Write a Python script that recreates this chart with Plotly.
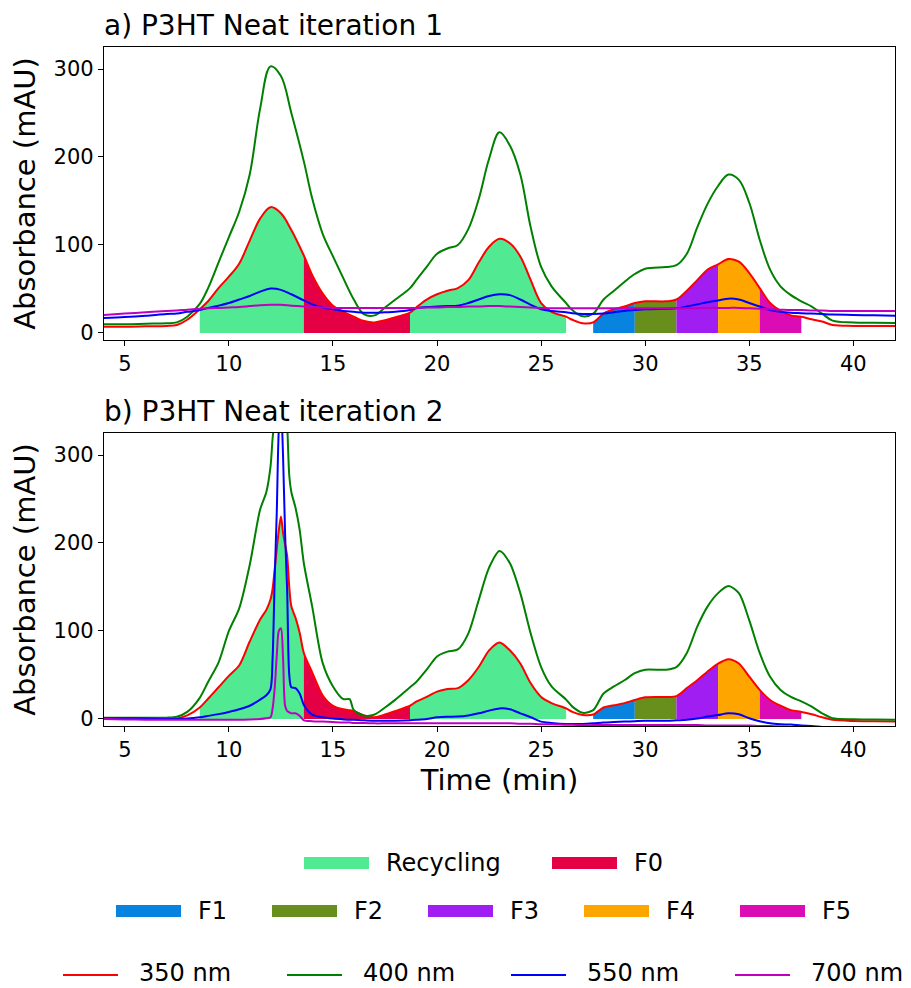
import plotly.graph_objects as go

# ---------------------------------------------------------------------------
# Chromatogram data (retention time in min, absorbance in mAU)
# ---------------------------------------------------------------------------
time_1 = [4, 5, 6, 7, 7.5, 8, 8.6, 9, 9.5, 10, 10.5, 11, 11.5, 12, 12.5, 13,
          13.6, 14, 14.5, 15, 15.5, 16, 16.5, 17, 17.5, 18, 18.7, 19, 19.5,
          20, 20.5, 21, 21.5, 22, 22.5, 23, 23.5, 24, 24.5, 25, 25.5, 26.2,
          26.5, 27, 27.5, 28, 28.5, 29, 29.5, 30, 31, 31.5, 32, 32.5, 33,
          33.5, 34, 34.5, 35, 35.5, 36, 36.5, 37, 37.5, 38, 38.5, 39, 40, 41, 42]
abs350_1 = [7, 7, 7.5, 8, 9, 15, 27, 36, 51, 64, 79, 105, 130, 143, 136, 117,
            88, 66, 45, 31, 24, 18.5, 13.5, 12, 14.5, 18, 23, 29, 38,
            44, 48, 51, 60, 80, 98, 107, 102, 87, 60, 34, 24, 18.5,
            15, 11, 12, 22, 27, 30, 34, 36, 36, 38, 48, 60, 72,
            78, 84, 81, 68, 51, 34, 25, 20, 18.5, 15.5, 13, 9, 8, 8, 8]
abs400_1 = [10, 10, 10.5, 11, 12, 18.5, 33, 51, 80, 109, 138, 180, 255, 303, 292, 250,
            195, 153, 113, 87, 62, 38, 21, 20, 29, 38, 51, 60, 75,
            90, 96, 100, 118, 152, 198, 228, 213, 180, 120, 75, 53, 34,
            26, 19, 22, 38, 48, 58, 67, 73, 75, 77, 90, 120, 147,
            167, 180, 174, 148, 106, 72, 53, 43, 36, 30, 22, 14, 12, 11.7, 11.4]
abs550_1 = [17, 18, 19.5, 21.5, 22, 24, 26, 28.5, 31, 34, 38, 42, 47, 50.5, 49, 44,
            37, 32.5, 29, 27, 25, 24, 23, 23, 23.5, 24, 26, 28, 29.5,
            30, 30.5, 31, 34, 38, 42, 44, 43, 38, 32, 27, 25, 23.5,
            22.5, 21.5, 21.5, 22, 23.5, 25, 26, 27, 27.5, 28, 30, 32.5, 35,
            37, 39, 38, 34, 30, 26, 24, 23, 22.5, 22, 21.5, 21, 20.5, 20, 19.7]
abs700_1 = [20.5, 22, 23.5, 25, 25.5, 26.5, 27.5, 28, 28.5, 29, 29.5, 30.5, 31.5, 32, 32, 31,
            30, 29.5, 29, 28.5, 28.5, 28.5, 28.5, 28.5, 28.5, 28.5, 28.5, 28.5, 29,
            29, 29.5, 29.5, 30, 30, 30.5, 30.5, 30, 29.5, 29, 28.5, 28, 28,
            28, 28, 28, 28, 28, 28, 28, 28, 28, 28, 28, 28, 28.5,
            28.5, 28.5, 28.5, 28, 27.5, 27, 26.5, 26, 26, 25.5, 25.5, 25, 25, 25, 25]

time_2 = [4, 5, 6, 7, 7.5, 8, 8.6, 9, 9.5, 10, 10.5, 11, 11.5, 11.8, 12.0, 12.1,
          12.2, 12.3, 12.4, 12.5, 12.6, 12.7, 12.8, 12.9, 13.0, 13.2, 13.4, 13.6,
          14, 14.5, 15, 15.5, 15.8, 16, 16.5, 17, 17.5, 18, 18.7, 19, 19.5,
          20, 20.5, 21, 21.5, 22, 22.5, 23, 23.5, 24, 24.5, 25, 25.5, 26.2,
          26.5, 27, 27.5, 28, 28.5, 29, 29.5, 30, 31, 31.5, 32, 32.5, 33,
          33.5, 34, 34.5, 35, 35.5, 36, 36.5, 37, 37.5, 38, 38.5, 39, 40, 41, 42]
abs350_2 = [0.8, 0.8, 0.5, 0.4, 0.6, 4, 13, 23, 36, 49, 61, 88, 113, 124, 136, 148,
            170, 193, 215, 230, 212, 198, 185, 150, 128, 115, 98, 75,
            53, 27, 15, 11, 10, 9, 4, 2, 5, 9, 15, 19.7, 25,
            31, 34, 35, 44, 59, 78, 87, 78, 63, 40.5, 25, 18, 12,
            8, 4.5, 5, 13, 15.5, 18, 21.6, 24.6, 25, 26, 35, 44, 54,
            63, 68, 63, 48, 33, 21.6, 15, 10, 8, 5.3, 1.9, -1, -2.3, -2.6, -3]
abs400_2 = [1.5, 1.5, 1.5, 1.5, 2.5, 8, 24, 42, 64, 100, 126, 175, 238, 258, 287, 319,
            340, 365, 390, 400, 392, 370, 335, 277, 258, 240, 215, 177,
            128, 64, 37, 22.5, 22.5, 10, 3.8, 5, 13, 22, 36, 42, 56,
            71, 76.5, 79, 97, 135, 172, 191, 177, 143, 97, 59, 37, 22,
            14, 7, 10, 29, 37, 44, 52, 56, 56, 59, 75, 105, 128,
            143, 151, 143, 112, 75, 48, 33, 25, 20, 14, 6.4, 0.8, -0.4, -0.7, -1]
abs550_2 = [0.8, 0.8, 0.5, 0, 0, 0.5, 2, 3.5, 5.5, 8, 11, 15, 22, 27, 34, 69,
            160, 235, 330, 355, 300, 210, 145, 50, 36, 35, 29, 16,
            5, 2, 0.5, -0.5, -1, -1, -1.5, -2, -2, -2, -1.5, -1, 0,
            1.9, 2.5, 2.7, 4, 6.4, 9.5, 12, 11, 6.4, 2, -3, -4.5, -5.7,
            -5.7, -5.7, -5, -4, -3.5, -3, -2.5, -2, -2, -1.5, -1, 0.5, 2.7,
            4.5, 6.4, 5.3, 0.8, -2.5, -5, -6, -6.4, -7.5, -8, -9, -9.5, -10, -10, -10]
abs700_2 = [0, -0.5, -0.8, -1, -1, -1, -1, -1, -1, -0.8, -0.8, -0.5, 0, 0.8, 2, 12,
            35, 72, 100, 103, 70, 15, 9, 7.6, 6.4, 6.4, 3.5, -1.5,
            -2.5, -3, -3.5, -4, -4, -4.5, -4.5, -5, -5, -5, -5, -5, -5,
            -5, -5, -5, -5, -5, -5, -5, -5, -5.5, -5.5, -6, -6, -6.5,
            -6.5, -7, -7, -7, -7, -7, -7, -7, -7, -7, -7, -7, -7.5,
            -7.5, -7.5, -7.5, -7.5, -8, -8, -8.5, -9, -9, -9.5, -10, -10, -10, -10, -10]

for arr in (abs350_1, abs400_1, abs550_1, abs700_1):
    assert len(arr) == len(time_1)
for arr in (abs350_2, abs400_2, abs550_2, abs700_2):
    assert len(arr) == len(time_2)

# Fraction collection windows (min)
window_start = [8.6, 13.6, 18.7, 27.5, 29.5, 31.5, 33.5, 35.5]
window_end = [13.6, 18.7, 26.2, 29.5, 31.5, 33.5, 35.5, 37.5]
window_label = ["Recycling", "F0", "Recycling", "F1", "F2", "F3", "F4", "F5"]

fraction_names = ["Recycling", "F0", "F1", "F2", "F3", "F4", "F5"]
fraction_colors = ["#51E992", "#E50046", "#0883DF", "#688F1C",
                   "#A01EF2", "#FFA500", "#DC0CB4"]

wavelength_names = ["350 nm", "400 nm", "550 nm", "700 nm"]
wavelength_colors = ["#FF0000", "#008000", "#0000FF", "#BF00BF"]

panel_titles = ["a) P3HT Neat iteration 1", "b) P3HT Neat iteration 2"]

x_ticks = [5, 10, 15, 20, 25, 30, 35, 40]
y_ticks = [0, 100, 200, 300]

# ---------------------------------------------------------------------------
W, H = 911, 988
FONT = "DejaVu Sans"


def px_x(p):
    return p / W


def px_y(p):
    return 1 - p / H


def window(ts, vs, lo, hi):
    xs, ys = [], []
    for t, v in zip(ts, vs):
        if lo - 1e-9 <= t <= hi + 1e-9:
            xs.append(t)
            ys.append(v)
    return xs, ys


fig = go.Figure()
color_of = dict(zip(fraction_names, fraction_colors))

runs = [
    (time_1, [abs350_1, abs400_1, abs550_1, abs700_1], 1.0),
    (time_2, [abs350_2, abs400_2, abs550_2, abs700_2], 0.8),
]

for i, (ts, series, smooth) in enumerate(runs):
    xa = "x" if i == 0 else "x2"
    ya = "y" if i == 0 else "y2"
    # shaded fractions under the 350 nm trace
    for lo, hi, lab in zip(window_start, window_end, window_label):
        xs, ys = window(ts, series[0], lo, hi)
        fig.add_trace(go.Scatter(
            x=xs, y=ys, xaxis=xa, yaxis=ya, mode="lines",
            line=dict(width=0, shape="spline", smoothing=smooth),
            fill="tozeroy", fillcolor=color_of[lab],
            showlegend=False, hoverinfo="skip"))
    for vals, name, col in zip(series, wavelength_names, wavelength_colors):
        fig.add_trace(go.Scatter(
            x=ts, y=vals, xaxis=xa, yaxis=ya, mode="lines", name=name,
            line=dict(color=col, width=2, shape="spline", smoothing=smooth),
            showlegend=False))

axis_common = dict(
    showgrid=False, zeroline=False, showline=True, mirror=True,
    linecolor="black", linewidth=1.2, ticks="outside", ticklen=5,
    tickwidth=1.2, tickcolor="black", automargin=False,
    tickfont=dict(family=FONT, size=21, color="black"))

x_dom = [px_x(104), px_x(895)]
panels_px = [(47, 340), (433, 726)]

layout_axes = {}
for i, (top, bot) in enumerate(panels_px):
    sfx = "" if i == 0 else "2"
    layout_axes["xaxis" + sfx] = dict(
        axis_common, domain=x_dom, range=[4, 42], tickvals=x_ticks,
        anchor="y" + sfx)
    layout_axes["yaxis" + sfx] = dict(
        axis_common, domain=[px_y(bot), px_y(top)], range=[-8, 325],
        tickvals=y_ticks, anchor="x" + sfx,
        title=dict(text="Absorbance (mAU)", standoff=9,
                   font=dict(family=FONT, size=29, color="black")))
layout_axes["xaxis2"]["title"] = dict(
    text="Time (min)", standoff=8, font=dict(family=FONT, size=29, color="black"))

fig.update_layout(
    width=W, height=H, margin=dict(l=0, r=0, t=0, b=0),
    paper_bgcolor="white", plot_bgcolor="white",
    font=dict(family=FONT, color="black"),
    showlegend=False, **layout_axes)

annotations = []
shapes = []

# panel titles
for title, (top, _) in zip(panel_titles, panels_px):
    annotations.append(dict(
        text=title, xref="paper", yref="paper", x=px_x(102), y=px_y(top - 3),
        xanchor="left", yanchor="bottom", showarrow=False,
        font=dict(family=FONT, size=28, color="black")))

# legend rows drawn below the panels
LEG_FONT = dict(family=FONT, size=24, color="black")


def patch_entry(x0, yc, name, color):
    shapes.append(dict(type="rect", xref="paper", yref="paper",
                       x0=px_x(x0), x1=px_x(x0 + 65),
                       y0=px_y(yc + 6), y1=px_y(yc - 6),
                       fillcolor=color, line=dict(width=0)))
    annotations.append(dict(text=name, xref="paper", yref="paper",
                            x=px_x(x0 + 80), y=px_y(yc), xanchor="left",
                            yanchor="middle", showarrow=False, font=LEG_FONT))


def line_entry(x0, yc, name, color):
    shapes.append(dict(type="line", xref="paper", yref="paper",
                       x0=px_x(x0), x1=px_x(x0 + 55), y0=px_y(yc), y1=px_y(yc),
                       line=dict(color=color, width=2)))
    annotations.append(dict(text=name, xref="paper", yref="paper",
                            x=px_x(x0 + 74), y=px_y(yc - 2), xanchor="left",
                            yanchor="middle", showarrow=False, font=LEG_FONT))


for k, name in enumerate(fraction_names[:2]):
    patch_entry(304 + 248 * k, 863, name, color_of[name])
for k, name in enumerate(fraction_names[2:]):
    patch_entry(116 + 156 * k, 911, name, color_of[name])
for k, (name, col) in enumerate(zip(wavelength_names, wavelength_colors)):
    line_entry(63 + 224 * k, 975, name, col)

fig.update_layout(annotations=annotations, shapes=shapes)

fig.write_html("out.html")
